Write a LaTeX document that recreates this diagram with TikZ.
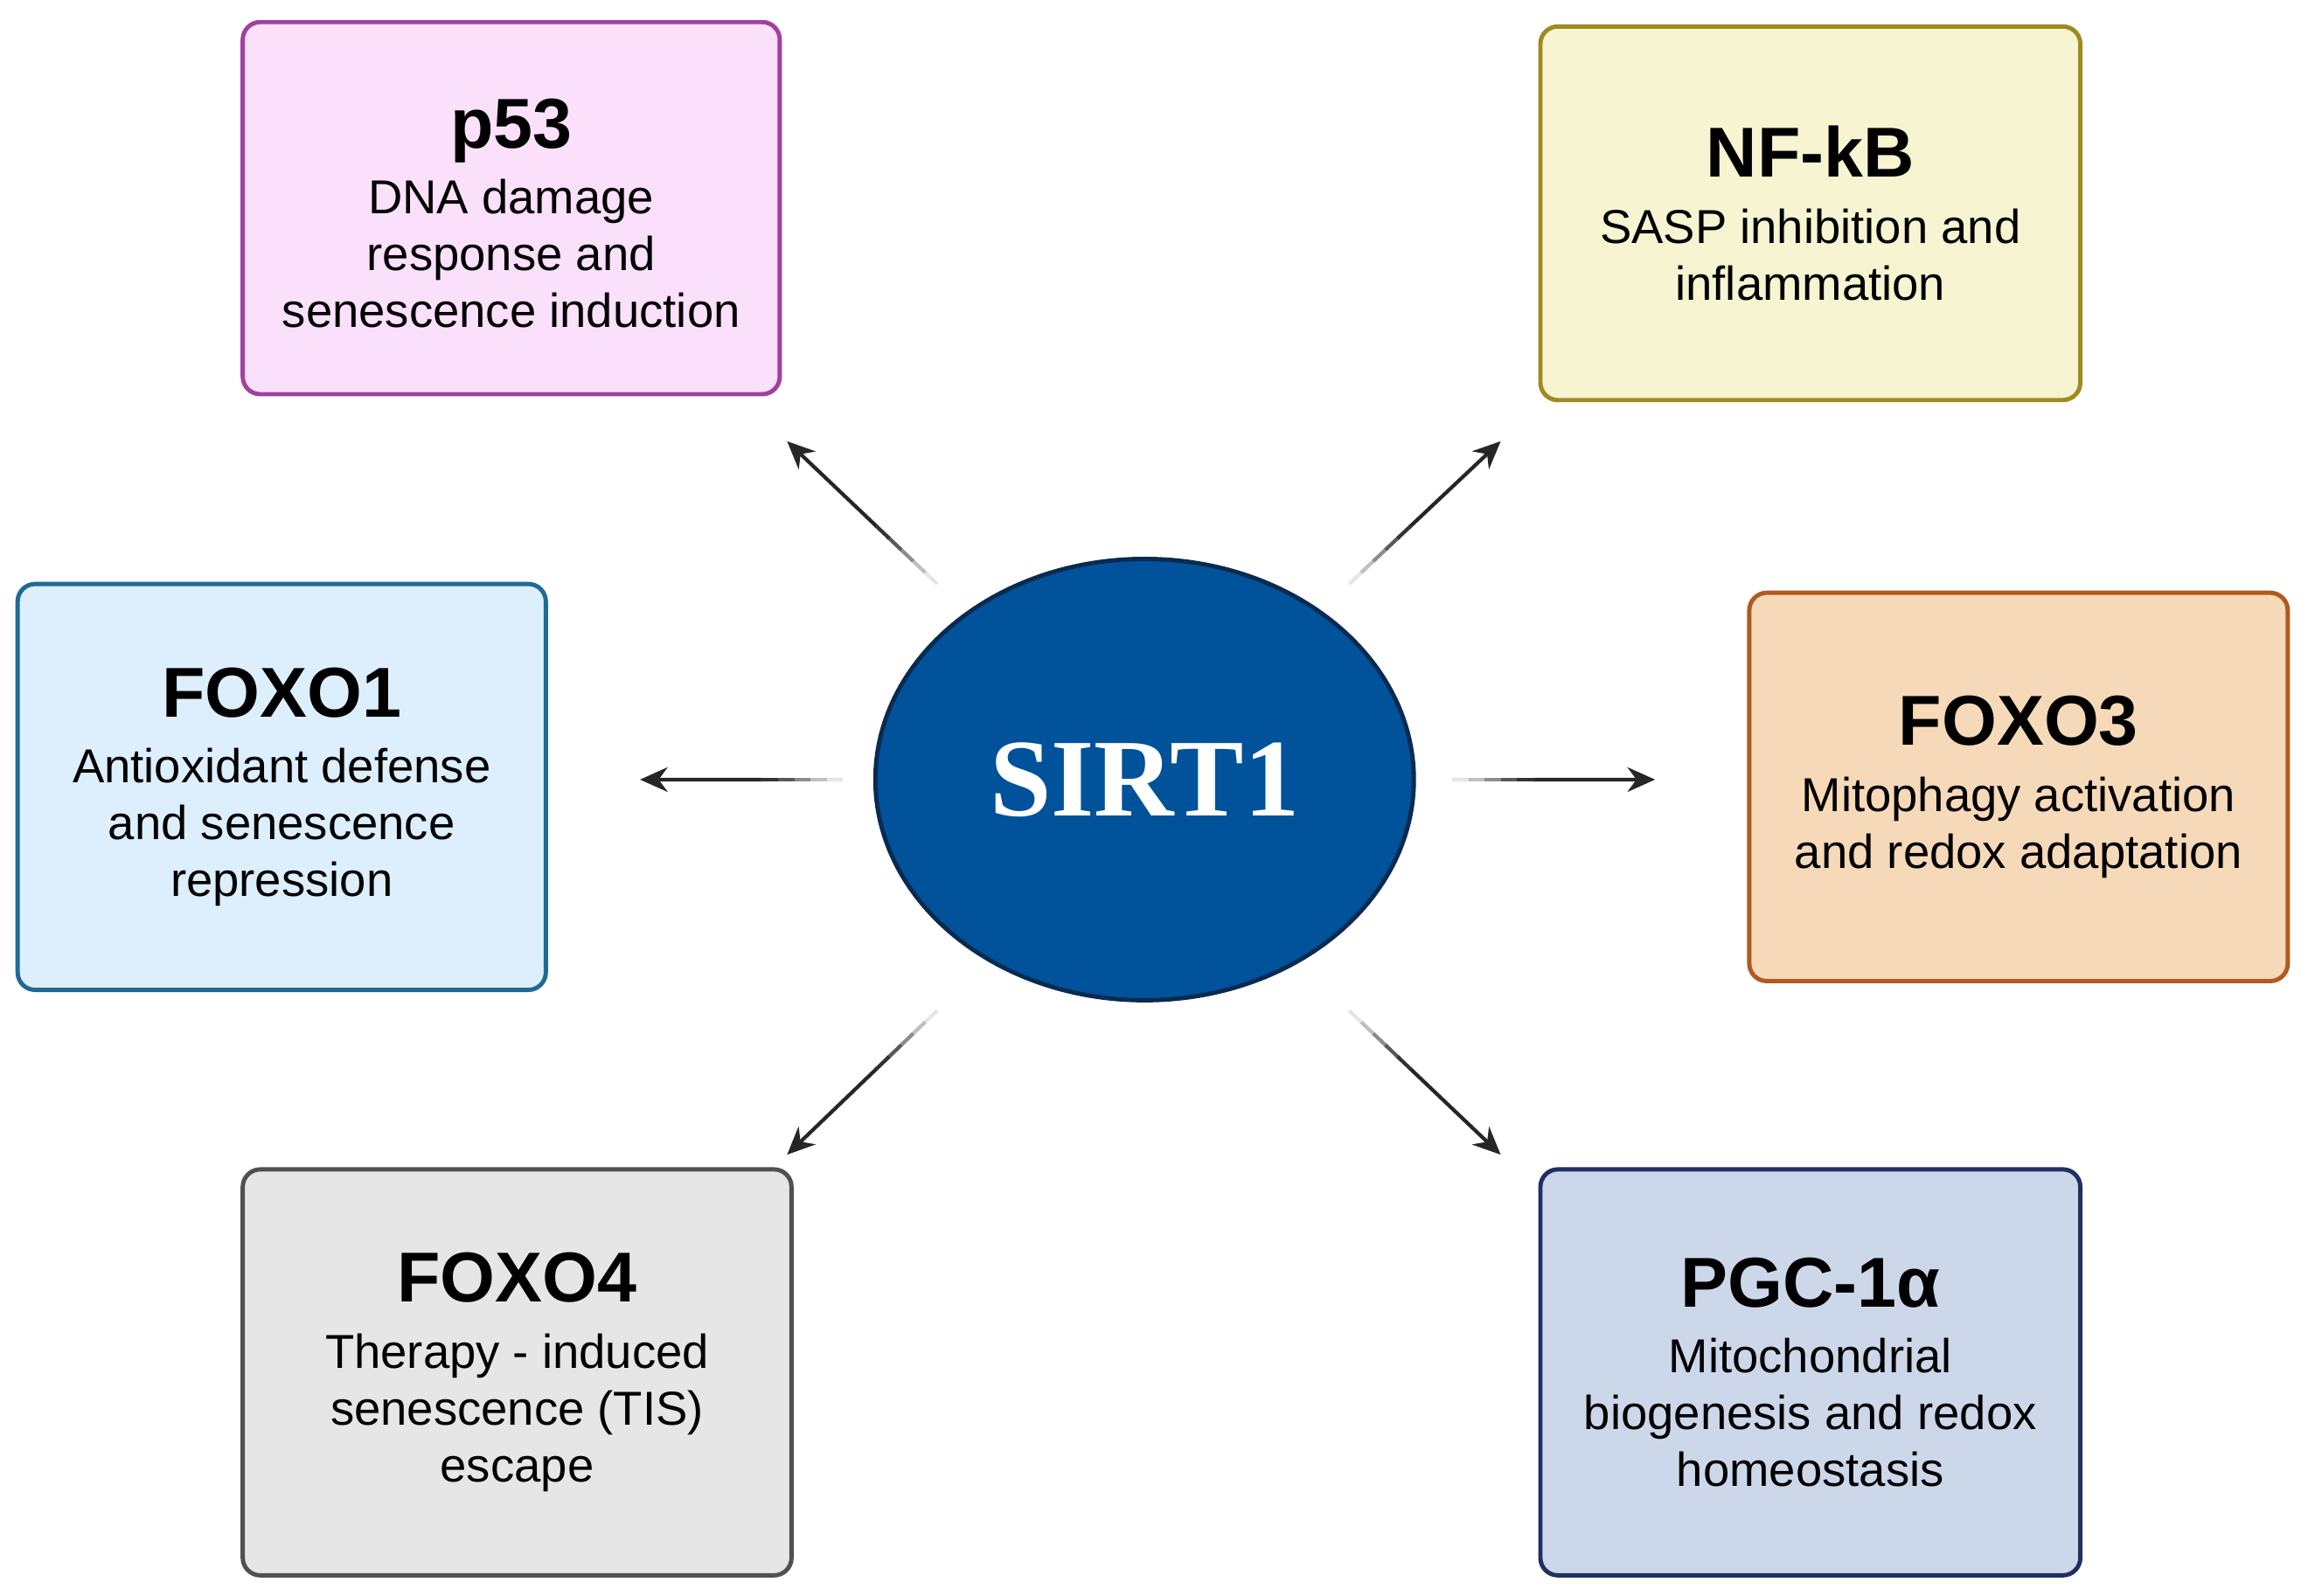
\documentclass[tikz,border=0pt]{standalone}
\usepackage{fontspec}
\setmainfont{Liberation Sans}
\newfontfamily\sirtfont{Liberation Serif}
\usetikzlibrary{arrows.meta,shapes.geometric,calc}
\definecolor{pfill}{HTML}{FAE0FA}\definecolor{pline}{HTML}{A040A0}
\definecolor{nfill}{HTML}{F7F4D2}\definecolor{nline}{HTML}{A08A20}
\definecolor{oafill}{HTML}{DDEEFC}\definecolor{oaline}{HTML}{1F6A94}
\definecolor{ocfill}{HTML}{F5D9B8}\definecolor{ocline}{HTML}{B05A20}
\definecolor{odfill}{HTML}{E6E6E6}\definecolor{odline}{HTML}{505050}
\definecolor{gfill}{HTML}{CCD8EA}\definecolor{gline}{HTML}{203060}
\definecolor{sfill}{HTML}{00529B}\definecolor{sline}{HTML}{0A2A50}
\tikzset{
  box/.style={rounded corners=0.2cm, line width=1.4pt},
  boxtext/.style={align=center, font=\fontsize{15.5}{18.5}\selectfont},
  arr/.style={line width=1.2pt, -{Stealth[length=9pt,width=8pt]}},
}
\newcommand{\ttl}[1]{{\fontsize{23}{26}\selectfont\bfseries #1}\\[3pt]}
\begin{document}
\begin{tikzpicture}[x=0.01683cm, y=-0.01683cm]
  \useasboundingbox (0,0) rectangle (1564,1085);

  % The six target boxes.
  \draw[box, fill=pfill, draw=pline] (165,15) rectangle (530,268);
  \node[boxtext] (p53) at (347.5,145) {\ttl{p53}DNA damage\\response and\\senescence induction};

  \draw[box, fill=nfill, draw=nline] (1047,18) rectangle (1414,272);
  \node[boxtext] (nfkb) at (1230.5,145) {\ttl{NF-kB}SASP inhibition and\\inflammation};

  \draw[box, fill=oafill, draw=oaline] (12,397) rectangle (371,673);
  \node[boxtext] (foxoa) at (191.5,535) {\ttl{FOXO1}Antioxidant defense\\and senescence\\repression};

  \draw[box, fill=ocfill, draw=ocline] (1189,403) rectangle (1555,667);
  \node[boxtext] (foxoc) at (1372,535) {\ttl{FOXO3}Mitophagy activation\\and redox adaptation};

  \draw[box, fill=odfill, draw=odline] (165,795) rectangle (538,1071);
  \node[boxtext] (foxod) at (351.5,933) {\ttl{FOXO4}Therapy - induced\\senescence (TIS)\\escape};

  \draw[box, fill=gfill, draw=gline] (1047,795) rectangle (1414,1071);
  \node[boxtext] (pgc) at (1230.5,933) {\ttl{PGC-1α}Mitochondrial\\biogenesis and redox\\homeostasis};

  % The central node.
  \node[ellipse, draw=sline, fill=sfill, line width=1.4pt, inner sep=0pt,
        minimum width=6.16cm, minimum height=5.05cm,
        font=\sirtfont\fontsize{36}{40}\selectfont\bfseries, text=white] (sirt) at (778,530) {SIRT1};

  % Arrow ends.
  \coordinate (s1) at (637,397);  \coordinate (t1) at (535,300);
  \coordinate (s2) at (917,397);  \coordinate (t2) at (1020,300);
  \coordinate (s3) at (573,530);  \coordinate (t3) at (435,530);
  \coordinate (s4) at (987,530);  \coordinate (t4) at (1125,530);
  \coordinate (s5) at (637,687);  \coordinate (t5) at (535,785);
  \coordinate (s6) at (917,687);  \coordinate (t6) at (1020,785);

  % Arrows with a faded tail.
  \foreach \i in {1,...,6}
  {
    \draw[arr, black!85] ($(s\i)!0.4!(t\i)$) -- (t\i);
    \foreach \f/\c in {0/10,0.08/25,0.16/45,0.24/65,0.32/80}
      \draw[line width=1.2pt, black!\c] ($(s\i)!\f!(t\i)$) -- ($(s\i)!\f+0.09!(t\i)$);
  }
\end{tikzpicture}
\end{document}
